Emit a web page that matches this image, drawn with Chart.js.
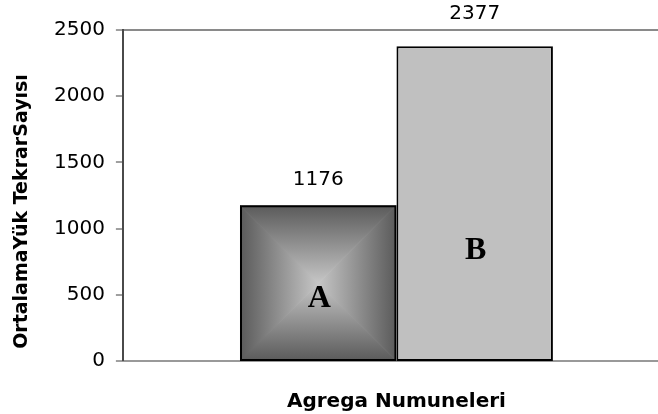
<!DOCTYPE html>
<html>
<head>
<meta charset="utf-8">
<script src="https://cdn.jsdelivr.net/npm/chart.js@4/dist/chart.umd.min.js"></script>
<style>
  html, body { margin: 0; padding: 0; background: #fff; overflow: hidden; }
  #frame { width: 658px; height: 414px; overflow: hidden; position: relative; }
  #wrap { width: 670px; height: 414px; position: relative; }
</style>
</head>
<body>
<div id="frame"><div id="wrap"><canvas id="c"></canvas></div></div>
<script>
// Aggregate samples and their mean load repetition counts
const categories = [''];
const sampleNames = ['A', 'B'];
const sampleValues = [1176, 2377];
const yTicks = [0, 500, 1000, 1500, 2000, 2500];

const yTitle = 'OrtalamaYük TekrarSayısı';
const xTitle = 'Agrega Numuneleri';

// Draws the "from centre" rectangular shading of bar A before its border is stroked
const pyramidFill = {
  id: 'pyramidFill',
  beforeDatasetDraw(chart, args) {
    if (args.index !== 0) return;
    const bar = chart.getDatasetMeta(0).data[0];
    if (!bar) return;
    const ctx = chart.ctx;
    const l = bar.x - bar.width / 2, r = bar.x + bar.width / 2;
    const t = Math.min(bar.y, bar.base), b = Math.max(bar.y, bar.base);
    const cx = (l + r) / 2, cy = (t + b) / 2;
    const edge = '#5a5a5a', centre = '#c6c6c6';
    const tri = (pts, g) => {
      ctx.beginPath();
      ctx.moveTo(pts[0][0], pts[0][1]);
      for (let i = 1; i < pts.length; i++) ctx.lineTo(pts[i][0], pts[i][1]);
      ctx.closePath();
      ctx.fillStyle = g;
      ctx.strokeStyle = g;
      ctx.lineWidth = 1;
      ctx.fill();
      ctx.stroke();
    };
    const lin = (x0, y0, x1, y1) => {
      const g = ctx.createLinearGradient(x0, y0, x1, y1);
      g.addColorStop(0, edge);
      g.addColorStop(1, centre);
      return g;
    };
    ctx.save();
    ctx.beginPath();
    ctx.rect(l, t, r - l, b - t);
    ctx.clip();
    tri([[l, t], [r, t], [cx, cy]], lin(0, t, 0, cy));
    tri([[l, b], [r, b], [cx, cy]], lin(0, b, 0, cy));
    tri([[l, t], [l, b], [cx, cy]], lin(l, 0, cx, 0));
    tri([[r, t], [r, b], [cx, cy]], lin(r, 0, cx, 0));
    ctx.restore();
  }
};

// Value labels above the bars, the sample letters inside them and the rotated y title
const barTexts = {
  id: 'barTexts',
  afterDatasetsDraw(chart, args, opts) {
    const ctx = chart.ctx;
    const y = chart.scales.y;
    ctx.save();
    ctx.textAlign = 'center';
    ctx.textBaseline = 'middle';
    chart.data.datasets.forEach((ds, i) => {
      const bar = chart.getDatasetMeta(i).data[0];
      if (!bar) return;
      ctx.fillStyle = '#000';
      ctx.font = '20px "DejaVu Sans"';
      ctx.fillText(String(ds.data[0]), bar.x, bar.y - ds.valueGap);
      ctx.font = 'bold 32px "Liberation Serif"';
      ctx.fillText(ds.label, bar.x + 1, y.getPixelForValue(opts.letterLevels[i]));
    });
    // y axis title
    ctx.translate(opts.titleX, (chart.chartArea.top + chart.chartArea.bottom) / 2 + opts.titleShift);
    ctx.rotate(-Math.PI / 2);
    ctx.font = 'bold 19px "DejaVu Sans"';
    ctx.fillText(yTitle, 0, 0);
    ctx.restore();
  }
};

new Chart(document.getElementById('c'), {
  type: 'bar',
  data: {
    labels: categories,
    datasets: [
      {
        label: sampleNames[0],
        data: [sampleValues[0]],
        backgroundColor: 'rgba(0,0,0,0)',
        borderColor: '#000',
        borderWidth: 2,
        borderSkipped: false,
        valueGap: 26
      },
      {
        label: sampleNames[1],
        data: [sampleValues[1]],
        backgroundColor: '#c0c0c0',
        borderColor: '#000',
        borderWidth: 2,
        borderSkipped: false,
        valueGap: 32
      }
    ]
  },
  options: {
    responsive: true,
    maintainAspectRatio: false,
    animation: false,
    events: [],
    layout: { padding: { left: 43, right: 0, top: 30, bottom: 0 } },
    datasets: { bar: { categoryPercentage: 0.572, barPercentage: 1 } },
    plugins: {
      legend: { display: false },
      tooltip: { enabled: false },
      barTexts: { letterLevels: [470, 833], titleX: 22, titleShift: 16 }
    },
    scales: {
      x: {
        grid: { display: false },
        border: { display: true, color: '#999', width: 2 },
        ticks: { display: false },
        title: {
          display: true,
          text: xTitle,
          color: '#000',
          font: { family: 'DejaVu Sans', size: 20, weight: 'bold' },
          padding: { top: 21, bottom: 0 }
        }
      },
      y: {
        min: 0,
        max: 2500,
        afterBuildTicks(scale) { scale.ticks = yTicks.map(v => ({ value: v })); },
        grid: {
          drawOnChartArea: true,
          drawTicks: true,
          tickLength: 7,
          tickColor: '#404040',
          tickWidth: 1,
          color: c => (c.tick && c.tick.value === 2500) ? '#8a8a8a' : 'rgba(0,0,0,0)',
          lineWidth: c => (c.tick && c.tick.value === 2500) ? 2 : 0
        },
        border: { display: true, color: '#4a4a4a', width: 2 },
        ticks: {
          color: '#000',
          padding: 11,
          font: { family: 'DejaVu Sans', size: 20 },
          callback: v => String(v)
        }
      }
    }
  },
  plugins: [pyramidFill, barTexts]
});
</script>
</body>
</html>
